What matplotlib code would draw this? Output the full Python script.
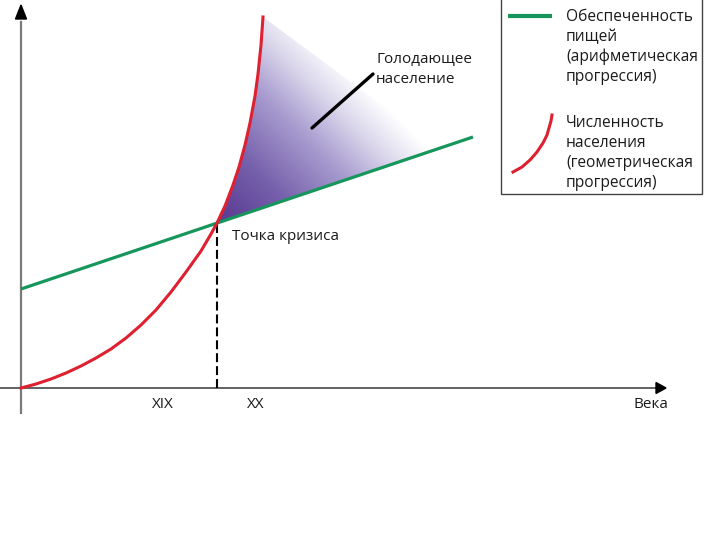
import numpy as np
import matplotlib
matplotlib.use("Agg")
import matplotlib.pyplot as plt
from matplotlib.colors import LinearSegmentedColormap
from matplotlib.patches import Polygon, Rectangle

plt.rcParams['font.family'] = ['Open Sans', 'DejaVu Sans']

# ---- data (abstract units: x = time, y = quantity) ----
pop_x = [0, 15, 30, 45, 60, 75, 90, 105, 120, 135, 150, 165, 180, 190, 196,
         204, 212, 218, 224, 229, 234, 237, 240, 242]
pop_y = [0, 4, 9, 15, 22, 30, 39, 50, 63, 78, 96, 116, 137, 154, 165,
         182, 203, 221, 243, 265, 292, 314, 343, 371]
food_x = [0, 452]
food_y = [99, 251]
crisis_x = 196
crisis_y = 165
famine_end = (419, 240)

tick_pos = [142, 235]
tick_labels = ["XIX", "XX"]
xlabel = "Века"

legend_food = "Обеспеченность\nпищей\n(арифметическая\nпрогрессия)"
legend_pop = "Численность\nнаселения\n(геометрическая\nпрогрессия)"
legend_curve_x = [492, 501, 509, 516, 522, 526, 528, 530, 531]
legend_curve_y = [216, 221, 228, 236, 245, 253, 260, 267, 273]

GREEN = "#17965c"
RED = "#de2030"
GRAY = "#7a7a7a"
TXT = "#1a1a1a"

fig = plt.figure(figsize=(7.2, 5.4), dpi=100)
ax = fig.add_axes([0, 0, 1, 1])
ax.set_xlim(-21, 699)
ax.set_ylim(-152, 388)
ax.axis("off")

# ---- famine region with gradient ----
px = np.array(pop_x); py = np.array(pop_y)
mask = px >= crisis_x
poly = [(crisis_x, crisis_y)] + list(zip(px[mask], py[mask])) + [famine_end]
patch = Polygon(poly, closed=True, facecolor="none", edgecolor="none")
ax.add_patch(patch)
gx = np.linspace(180, 440, 300)
gy = np.linspace(150, 390, 300)
GX, GY = np.meshgrid(gx, gy)
t = ((GX - 205) + (GY - 160)) / np.sqrt(2) / 200.0
t = np.clip(t, 0, 1)
cmap = LinearSegmentedColormap.from_list(
    "famine", [(0, "#5a3a92"), (0.3, "#7560ab"), (0.6, "#a79bcf"),
               (0.82, "#dcd8ec"), (1.0, "#ffffff")])
im = ax.imshow(t, extent=(gx[0], gx[-1], gy[0], gy[-1]), origin="lower",
               cmap=cmap, vmin=0, vmax=1, aspect="auto", zorder=1)
im.set_clip_path(patch)

# ---- axes with arrows ----
ax.plot([-21, 637], [0, 0], color="#555555", lw=1.3, zorder=2)
ax.plot([0, 0], [-25, 366], color=GRAY, lw=1.6, zorder=2)
ax.add_patch(Polygon([(635, -5.5), (645, 0), (635, 5.5)], closed=True,
                     color="black", zorder=3))
ax.add_patch(Polygon([(-5.5, 369), (0, 383), (5.5, 369)], closed=True,
                     color="black", zorder=3))

# ---- lines ----
ax.plot(food_x, food_y, color=GREEN, lw=2.3, zorder=4, solid_capstyle="butt")
ax.plot(pop_x, pop_y, color=RED, lw=2.2, zorder=5, solid_joinstyle="round")
ax.plot([crisis_x, crisis_x], [0, crisis_y], color="black", lw=1.5,
        dashes=(4.3, 1.9), zorder=3)

# ---- annotations ----
ax.plot([291, 352], [260, 314], color="black", lw=2.4, zorder=6,
        solid_capstyle="round")
ax.text(355, 318.5, "Голодающее\nнаселение", fontsize=11, ha="left",
        va="center", linespacing=1.4, color=TXT)
ax.text(211, 151, "Точка кризиса", fontsize=11, ha="left", va="center",
        color=TXT)

for p, lab in zip(tick_pos, tick_labels):
    ax.text(p, -17, lab, fontsize=11, ha="center", va="center", color=TXT)
ax.text(630, -17, xlabel, fontsize=11, ha="center", va="center", color=TXT)

# ---- legend ----
ax.add_patch(Rectangle((480, 194), 201, 196, facecolor="white",
                       edgecolor="#444444", lw=1.0, zorder=6))
ax.plot([487, 531], [372, 372], color=GREEN, lw=3, zorder=7, solid_capstyle="butt")
ax.plot(legend_curve_x, legend_curve_y, color=RED, lw=2.2, zorder=7,
        solid_joinstyle="round")
ax.text(545, 341, legend_food, fontsize=11.2, ha="left", va="center",
        linespacing=1.32, color=TXT, zorder=8)
ax.text(545, 235, legend_pop, fontsize=11.2, ha="left", va="center",
        linespacing=1.32, color=TXT, zorder=8)

fig.savefig("out.png", dpi=100)
